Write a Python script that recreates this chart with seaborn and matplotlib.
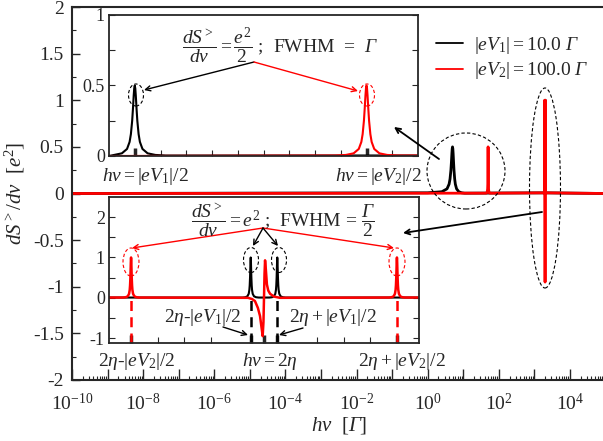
import numpy as np
import matplotlib
matplotlib.use('Agg')
from matplotlib import pyplot as plt
from matplotlib.patches import Ellipse, FancyArrowPatch
from matplotlib.ticker import LogLocator, MultipleLocator, FixedLocator, NullFormatter, FuncFormatter
import seaborn as sns

sns.set_style('ticks')
plt.rcParams['font.family'] = ['Liberation Serif', 'DejaVu Serif']
plt.rcParams['mathtext.fontset'] = 'custom'
plt.rcParams['mathtext.rm'] = 'Liberation Serif'
plt.rcParams['mathtext.it'] = 'Liberation Serif:italic'
plt.rcParams['mathtext.bf'] = 'Liberation Serif:bold'
plt.rcParams['mathtext.sf'] = 'Liberation Serif:italic'  # used for the italic capital Gamma
plt.rcParams['xtick.direction'] = 'in'
plt.rcParams['ytick.direction'] = 'in'

# peak positions / heights, in units of Gamma
eV1_half = 5.0      # |eV1|/2
eV2_half = 50.0     # |eV2|/2
two_eta = 2000.0    # h nu = 2 eta
outer_height = 0.5  # e^2/2 peaks at |eV|/2
outer_fwhm = 1.0
inner_height = 1.0  # e^2 peaks at 2eta +- |eV|/2
inner_fwhm = 0.5

# lorentzian line shape (offset in half widths, fraction of height)
shape_u = [-12, -8, -5, -3, -2, -1.5, -1, -0.7, -0.4, -0.2, 0, 0.2, 0.4, 0.7, 1, 1.5, 2, 3, 5, 8, 12]
shape_v = [0.007, 0.015, 0.038, 0.1, 0.2, 0.31, 0.5, 0.67, 0.86, 0.96, 1.0,
           0.96, 0.86, 0.67, 0.5, 0.31, 0.2, 0.1, 0.038, 0.015, 0.007]

# red dispersive feature at h nu = 2 eta (offset from 2 eta, value)
disp_dx = [-6, -4.5, -3.4, -2.3, -1.5, -1.0, -0.5, -0.2, 0, 0.2, 0.4, 0.7, 1.1, 1.6, 2.3, 3.8, 6]
disp_y = [0, -0.03, -0.08, -0.25, -0.45, -0.7, -0.95, -0.6, 0, 0.6, 0.93, 0.7, 0.33, 0.18, 0.1, 0.03, 0]

x_lo, x_hi = 1e-10, 1e5

G = r'\mathsf{\Gamma}'


def peak(center, height, fwhm):
    return center + np.array(shape_u) * fwhm / 2, height * np.array(shape_v)


def series(parts):
    xs = [np.array([x_lo])] + [p[0] for p in parts] + [np.array([x_hi])]
    ys = [np.array([0.0])] + [p[1] for p in parts] + [np.array([0.0])]
    x = np.concatenate(xs)
    y = np.concatenate(ys)
    keep = x > 0
    return x[keep], y[keep]


black_x, black_y = series([peak(eV1_half, outer_height, outer_fwhm),
                           peak(two_eta - eV1_half, inner_height, inner_fwhm),
                           peak(two_eta + eV1_half, inner_height, inner_fwhm)])
red_x, red_y = series([peak(eV2_half, outer_height, outer_fwhm),
                       peak(two_eta - eV2_half, inner_height, inner_fwhm),
                       (two_eta + np.array(disp_dx), np.array(disp_y)),
                       peak(two_eta + eV2_half, inner_height, inner_fwhm)])

W, H = 603, 441
fig = plt.figure(figsize=(W / 100, H / 100), dpi=100)


def P(x, y):
    return (x / W, 1 - y / H)


def box(l, t, r, b):
    return [l / W, 1 - b / H, (r - l) / W, (b - t) / H]


# ---- main axes
ax = fig.add_axes(box(72, 7, 605.5, 380))
sns.lineplot(x=black_x, y=black_y, ax=ax, color='black', lw=2, sort=False, estimator=None,
             label=rf'$|eV_1| = 10.0\ {G}$')
sns.lineplot(x=red_x, y=red_y, ax=ax, color='red', lw=2, sort=False, estimator=None,
             label=rf'$|eV_2| = 100.0\ {G}$')
ax.set_xscale('log')
ax.set_xlim(x_lo, x_hi)
ax.set_ylim(-2, 2)
ax.xaxis.set_major_locator(LogLocator(base=10, numticks=30))
ax.xaxis.set_minor_locator(LogLocator(base=10, subs=np.arange(2, 10), numticks=30))
ax.xaxis.set_minor_formatter(NullFormatter())


def dec_label(v, p):
    e = int(round(np.log10(v)))
    return f'$10^{{{e}}}$' if e % 2 == 0 else ''


ax.xaxis.set_major_formatter(FuncFormatter(dec_label))
ax.yaxis.set_major_locator(MultipleLocator(0.5))
ax.yaxis.set_minor_locator(MultipleLocator(0.25))
ax.yaxis.set_major_formatter(FuncFormatter(lambda v, p: f'{v:g}'))
ax.tick_params(which='major', length=6, width=1, labelsize=14, pad=6)
ax.tick_params(which='minor', length=3, width=0.8)
ax.tick_params(axis='x', which='major', length=8, pad=9)
for s in ax.spines.values():
    s.set_linewidth(1.5)
ax.set_xlabel(rf'$h\nu$  [${G}$]', fontsize=15, labelpad=1)
ax.set_ylabel(r'$dS^{>}/d\nu$  [$e^2$]', fontsize=15, labelpad=4)
leg = ax.legend(loc='upper left', bbox_to_anchor=P(418, 17), bbox_transform=fig.transFigure,
                frameon=False, fontsize=14, handlelength=1.4, handletextpad=0.6, labelspacing=0.25)
for ln in leg.get_lines():
    ln.set_linewidth(1.3)

# ---- top inset: peaks at |eV|/2
ax1 = fig.add_axes(box(109, 15, 418, 156))
sns.lineplot(x=black_x, y=black_y, ax=ax1, color='black', lw=1.5, sort=False, estimator=None)
sns.lineplot(x=red_x, y=red_y, ax=ax1, color='red', lw=1.5, sort=False, estimator=None)
ax1.set_xlim(0, 60)
ax1.set_ylim(0, 1)
ax1.xaxis.set_major_locator(FixedLocator([eV1_half, eV2_half]))
ax1.xaxis.set_minor_locator(FixedLocator([10, 15, 20, 25, 30, 35, 40, 45, 55]))
ax1.set_xticklabels([])
ax1.set_yticks([0, 0.5, 1])
ax1.set_yticklabels(['0', '0.5', '1'])
ax1.yaxis.set_minor_locator(FixedLocator([0.25, 0.75]))
ax1.tick_params(axis='x', which='major', length=6, width=2.5)
ax1.tick_params(axis='x', which='minor', length=4, width=0.8)
ax1.tick_params(axis='y', which='both', length=4, width=0.8, right=True, labelsize=13, pad=3)
for s in ax1.spines.values():
    s.set_linewidth(1.3)

# ---- bottom inset: around 2 eta (linear)
ax2 = fig.add_axes(box(109, 197, 419, 343))
sns.lineplot(x=black_x, y=black_y, ax=ax2, color='black', lw=1.5, sort=False, estimator=None)
sns.lineplot(x=red_x, y=red_y, ax=ax2, color='red', lw=1.8, sort=False, estimator=None)
ax2.set_xlim(two_eta - 58.3, two_eta + 58.3)
ax2.set_ylim(-1.12, 2.5)
ax2.vlines([two_eta - eV2_half, two_eta + eV2_half], -1.12, 0, colors='red', linestyles=(0, (4, 2.5)), lw=1.8)
ax2.vlines([two_eta - eV1_half, two_eta + eV1_half], -1.12, 0, colors='black', linestyles=(0, (4, 2.5)), lw=1.8)
ax2.xaxis.set_major_locator(FixedLocator([two_eta - eV2_half, two_eta - eV1_half, two_eta,
                                          two_eta + eV1_half, two_eta + eV2_half]))
ax2.xaxis.set_minor_locator(FixedLocator([two_eta + d for d in (-40, -30, -20, 20, 30, 40)]))
ax2.set_xticklabels([])
ax2.set_yticks([-1, 0, 1, 2])
ax2.set_yticklabels(['-1', '0', '1', '2'])
ax2.yaxis.set_minor_locator(FixedLocator([-0.5, 0.5, 1.5]))
ax2.tick_params(axis='x', which='major', length=6, width=2.5)
ax2.tick_params(axis='x', which='minor', length=4, width=0.8)
ax2.tick_params(axis='y', which='both', length=4, width=0.8, right=True, labelsize=13, pad=3)
for s in ax2.spines.values():
    s.set_linewidth(1.3)


# ---- annotations (figure pixel positions)
def arrow(a, b, color='black', head=True, lw=1.0):
    fig.add_artist(FancyArrowPatch(P(*a), P(*b), transform=fig.transFigure,
                                   arrowstyle='->' if head else '-', mutation_scale=9,
                                   color=color, lw=lw, shrinkA=0, shrinkB=0))


def ring(c, w, h, color='black'):
    fig.add_artist(Ellipse(P(*c), w / W, h / H, transform=fig.transFigure, fill=False,
                           ec=color, ls=(0, (3, 2)), lw=0.8))


tx = dict(ha='center', va='center', fontsize=14)
fig.text(*P(280, 46), rf'$\dfrac{{dS^{{>}}}}{{d\nu}} = \dfrac{{e^2}}{{2}}$ ;  FWHM  =  ${G}$', **tx)
arrow((254, 62), (144, 90))
arrow((254, 62), (358, 91), color='red')
ring((136, 95), 15, 22)
ring((367, 95), 15, 22, 'red')
fig.text(*P(145, 176), r'$h\nu = |eV_1|/2$', **tx)
fig.text(*P(378, 176), r'$h\nu = |eV_2|/2$', **tx)

fig.text(*P(283, 221), rf'$\dfrac{{dS^{{>}}}}{{d\nu}} = e^2$ ;  FWHM = $\dfrac{{{G}}}{{2}}$', **tx)
arrow((263, 228), (132, 248), color='red')
arrow((263, 228), (394, 248), color='red')
arrow((263, 228), (253, 246))
arrow((263, 228), (278, 246))
ring((131, 262), 16, 28, 'red')
ring((397, 262), 16, 28, 'red')
ring((251, 260), 15, 25)
ring((279, 260), 15, 25)
fig.text(*P(203, 318), r'$2\eta$-$|eV_1|/2$', **tx)
fig.text(*P(333, 318), r'$2\eta + |eV_1|/2$', **tx)
arrow((223, 327), (248, 335))
arrow((303, 328), (279, 335))
fig.text(*P(137, 361), r'$2\eta$-$|eV_2|/2$', **tx)
fig.text(*P(270, 361), r'$h\nu = 2\eta$', **tx)
fig.text(*P(402, 361), r'$2\eta + |eV_2|/2$', **tx)

ring((466, 171), 78, 76)
arrow((439, 159), (394, 127), lw=1.3)
ring((545, 188), 31, 200)
arrow((542, 212), (403, 233), lw=1.3)

fig.savefig('out.png', dpi=100)
